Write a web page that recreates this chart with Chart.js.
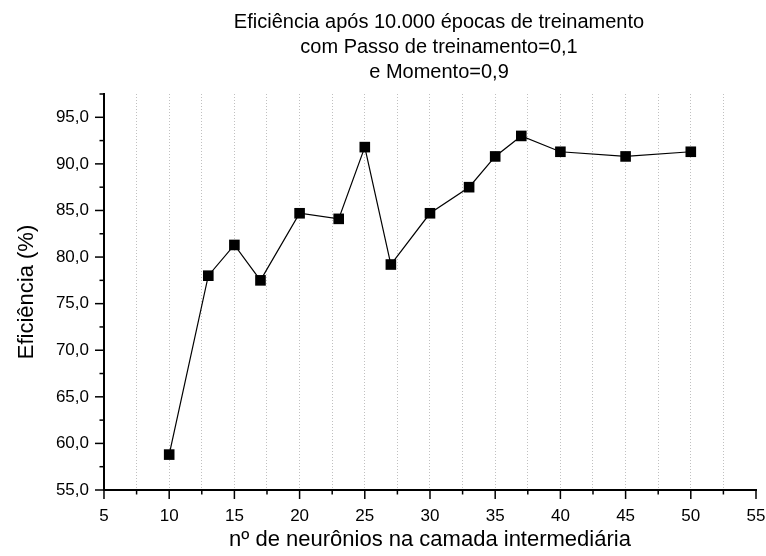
<!DOCTYPE html>
<html>
<head>
<meta charset="utf-8">
<script src="https://cdn.jsdelivr.net/npm/chart.js@4"></script>
<style>
html,body{margin:0;padding:0;background:#fff;}
#wrap{width:766px;height:556px;}
</style>
</head>
<body>
<div id="wrap"><canvas id="c" width="766" height="556"></canvas></div>
<script>
const neurons = [10, 13, 15, 17, 20, 23, 25, 27, 30, 33, 35, 37, 40, 45, 50];
const efficiency = [58.8, 78.0, 81.3, 77.5, 84.7, 84.1, 91.8, 79.2, 84.7, 87.5, 90.8, 93.0, 91.3, 90.8, 91.3];
const titleLines = ['Eficiência após 10.000 épocas de treinamento', 'com Passo de treinamento=0,1', 'e Momento=0,9'];
const xTitle = 'nº de neurônios na camada intermediária';
const yTitle = 'Eficiência (%)';

const FONT = "'Liberation Sans', Arial, sans-serif";

const tickPlugin = {
  id: 'tickMarks',
  afterLayout(chart) {
    if (chart.titleBlock) {
      chart.titleBlock.left += 9;
      chart.titleBlock.right += 9;
    }
  },
  afterDraw(chart) {
    const ctx = chart.ctx;
    const xs = chart.scales.x, ys = chart.scales.y;
    ctx.save();
    ctx.strokeStyle = '#000';
    ctx.lineWidth = 1.5;
    xs.ticks.forEach(t => {
      const px = xs.getPixelForValue(t.value);
      const major = Math.abs(t.value % 5) < 1e-6;
      const len = major ? 9 : 4.5;
      ctx.beginPath();
      ctx.moveTo(px, xs.top);
      ctx.lineTo(px, xs.top + len);
      ctx.stroke();
    });
    ys.ticks.forEach(t => {
      const py = ys.getPixelForValue(t.value);
      const major = Math.abs(t.value % 5) < 1e-6;
      const len = major ? 9 : 4.5;
      ctx.beginPath();
      ctx.moveTo(ys.right, py);
      ctx.lineTo(ys.right - len, py);
      ctx.stroke();
    });
    ctx.restore();
  }
};

new Chart(document.getElementById('c'), {
  type: 'scatter',
  data: {
    datasets: [{
      data: neurons.map((n, i) => ({x: n, y: efficiency[i]})),
      showLine: true,
      borderColor: '#000',
      borderWidth: 1.2,
      backgroundColor: '#000',
      pointStyle: 'rect',
      pointRadius: 7.5,
      pointHoverRadius: 7.5,
      pointBorderWidth: 0,
      tension: 0
    }]
  },
  options: {
    responsive: false,
    animation: false,
    devicePixelRatio: 1,
    layout: {padding: {left: 0, right: 10, top: 10, bottom: 0}},
    plugins: {
      legend: {display: false},
      tooltip: {enabled: false},
      title: {
        display: true,
        fullSize: false,
        text: titleLines,
        color: '#000',
        font: {family: FONT, size: 20, weight: 'normal', lineHeight: 1.25},
        padding: {top: 0, bottom: 9}
      }
    },
    scales: {
      x: {
        type: 'linear',
        min: 5, max: 55,
        grid: {
          drawTicks: false,
          lineWidth: 1,
          color: ctx => (ctx.tick && (ctx.tick.value === 5 || ctx.tick.value === 55)) ? 'rgba(0,0,0,0)' : '#c0c0c0'
        },
        border: {display: true, color: '#000', width: 2, dash: [1, 2]},
        ticks: {
          stepSize: 2.5,
          autoSkip: false,
          maxRotation: 0,
          padding: 0,
          color: '#000',
          font: {family: FONT, size: 17, lineHeight: '17.3px'},
          callback: v => ['', (Math.abs(v % 5) < 1e-6 ? String(v) : '')]
        },
        title: {
          display: true,
          text: xTitle,
          color: '#000',
          font: {family: FONT, size: 22, lineHeight: 1.2},
          padding: {top: 2, bottom: 3}
        }
      },
      y: {
        type: 'linear',
        min: 55, max: 97.5,
        grid: {display: false, drawTicks: false},
        border: {display: true, color: '#000', width: 2},
        ticks: {
          stepSize: 2.5,
          autoSkip: false,
          padding: 15,
          color: '#000',
          font: {family: FONT, size: 17},
          callback: v => (Math.abs(v % 5) < 1e-6 ? v.toFixed(1).replace('.', ',') : '')
        },
        title: {
          display: true,
          text: yTitle,
          color: '#000',
          font: {family: FONT, size: 22, lineHeight: 1.2},
          padding: {top: 13.8, bottom: 0.7}
        }
      }
    }
  },
  plugins: [tickPlugin]
});
</script>
</body>
</html>
